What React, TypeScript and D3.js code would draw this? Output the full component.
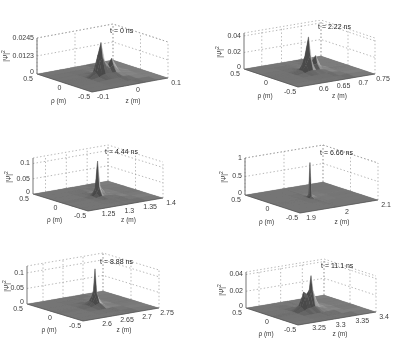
import * as d3 from "d3";

const width = 406;
const height = 346;

// same rho samples in every panel, the field is symmetric about rho = 0
const rhoSamples = [0, 0.03, 0.08, 0.2, 0.35, 0.5];
const rhoTicks = [-0.5, 0, 0.5];

const timeLabels = ["t = 0 ns", "t = 2.22 ns", "t = 4.44 ns", "t = 6.66 ns", "t = 8.88 ns", "t = 11.1 ns"];

const zDomains = [[-0.1, 0.1], [0.555, 0.75], [1.22, 1.4], [1.9, 2.1], [2.56, 2.75], [3.22, 3.4]];
const zTicks = [
  ["-0.1", "0", "0.1"],
  ["0.6", "0.65", "0.7", "0.75"],
  ["1.25", "1.3", "1.35", "1.4"],
  ["1.9", "2", "2.1"],
  ["2.6", "2.65", "2.7", "2.75"],
  ["3.25", "3.3", "3.35", "3.4"],
];
const heightMax = [0.0245, 0.0435, 0.118, 1, 0.122, 0.043];
const heightTicks = [
  ["0", "0.0123", "0.0245"],
  ["0", "0.02", "0.04"],
  ["0", "0.05", "0.1"],
  ["0", "0.5", "1"],
  ["0", "0.05", "0.1"],
  ["0", "0.02", "0.04"],
];

// z sample positions per panel, dense around the pulse
const zSamples = [
  [-0.1, -0.04, -0.02, -0.012, -0.004, 0.006, 0.015, 0.024, 0.04, 0.07, 0.1],
  [0.555, 0.61, 0.63, 0.64, 0.65, 0.658, 0.668, 0.68, 0.7, 0.75],
  [1.22, 1.28, 1.295, 1.303, 1.309, 1.315, 1.325, 1.34, 1.36, 1.4],
  [1.9, 1.97, 1.99, 1.994, 1.996, 1.998, 2.01, 2.04, 2.1],
  [2.56, 2.62, 2.64, 2.65, 2.657, 2.66, 2.664, 2.675, 2.7, 2.75],
  [3.22, 3.27, 3.285, 3.293, 3.3, 3.306, 3.31, 3.315, 3.325, 3.34, 3.36, 3.4],
];

// |psi|^2, one row per rho sample
const psi0 = [
  [0, 0.0002, 0.004, 0.015, 0.023, 0.009, 0.007, 0.011, 0.003, 0.0005, 0],
  [0, 0.0002, 0.003, 0.01, 0.013, 0.007, 0.005, 0.007, 0.002, 0.0004, 0],
  [0, 0.0002, 0.001, 0.002, 0.0025, 0.0025, 0.0025, 0.0025, 0.0015, 0.0003, 0],
  [0, 0.0001, 0.0003, 0.0004, 0.0005, 0.0006, 0.0007, 0.0012, 0.0009, 0.0003, 0],
  [0, 0.0001, 0.0002, 0.0002, 0.0002, 0.0002, 0.0002, 0.0002, 0.0007, 0.0004, 0],
  [0, 0, 0, 0, 0, 0, 0, 0, 0.0001, 0.0002, 0],
];
const psi1 = [
  [0, 0.0003, 0.003, 0.018, 0.042, 0.012, 0.018, 0.005, 0.001, 0],
  [0, 0.0003, 0.003, 0.01, 0.02, 0.008, 0.009, 0.003, 0.0007, 0],
  [0, 0.0003, 0.0015, 0.003, 0.0035, 0.003, 0.003, 0.002, 0.0006, 0],
  [0, 0.0002, 0.0005, 0.0007, 0.0008, 0.0009, 0.001, 0.0016, 0.0006, 0],
  [0, 0.0001, 0.0002, 0.0002, 0.0003, 0.0003, 0.0003, 0.0004, 0.0012, 0],
  [0, 0, 0, 0, 0, 0, 0, 0, 0.0002, 0],
];
const psi2 = [
  [0, 0.0005, 0.004, 0.025, 0.115, 0.03, 0.01, 0.003, 0.0005, 0],
  [0, 0.0004, 0.003, 0.012, 0.03, 0.012, 0.005, 0.002, 0.0004, 0],
  [0, 0.0002, 0.001, 0.003, 0.005, 0.004, 0.003, 0.0015, 0.0003, 0],
  [0, 0.0001, 0.0004, 0.0006, 0.0008, 0.001, 0.001, 0.0025, 0.0006, 0],
  [0, 0.0001, 0.0002, 0.0002, 0.0002, 0.0003, 0.0003, 0.0004, 0.0018, 0],
  [0, 0, 0, 0, 0, 0, 0, 0, 0.0002, 0],
];
const psi3 = [
  [0, 0.002, 0.01, 0.1, 0.95, 0.1, 0.01, 0.002, 0],
  [0, 0.002, 0.008, 0.03, 0.05, 0.03, 0.01, 0.002, 0],
  [0, 0.001, 0.004, 0.006, 0.008, 0.008, 0.005, 0.001, 0],
  [0, 0.0005, 0.001, 0.001, 0.002, 0.002, 0.002, 0.001, 0],
  [0, 0.0002, 0.0003, 0.0003, 0.0004, 0.0004, 0.0004, 0.0004, 0],
  [0, 0, 0, 0, 0, 0, 0, 0, 0],
];
const psi4 = [
  [0, 0.0005, 0.005, 0.015, 0.045, 0.118, 0.035, 0.006, 0.0008, 0],
  [0, 0.0004, 0.005, 0.014, 0.03, 0.045, 0.024, 0.005, 0.0006, 0],
  [0, 0.0003, 0.003, 0.008, 0.012, 0.014, 0.01, 0.003, 0.0005, 0],
  [0, 0.0001, 0.0004, 0.0008, 0.001, 0.0012, 0.0012, 0.0022, 0.0006, 0],
  [0, 0.0001, 0.0002, 0.0002, 0.0002, 0.0002, 0.0003, 0.0003, 0.0018, 0],
  [0, 0, 0, 0, 0, 0, 0, 0, 0.0002, 0],
];
const psi5 = [
  [0, 0.001, 0.007, 0.023, 0.02, 0.024, 0.041, 0.022, 0.006, 0.002, 0.0005, 0],
  [0, 0.0008, 0.006, 0.016, 0.016, 0.018, 0.024, 0.015, 0.005, 0.0015, 0.0004, 0],
  [0, 0.0004, 0.003, 0.005, 0.005, 0.006, 0.006, 0.005, 0.003, 0.001, 0.0003, 0],
  [0, 0.0002, 0.0005, 0.0007, 0.0008, 0.0008, 0.001, 0.001, 0.0012, 0.0014, 0.0002, 0],
  [0, 0.0001, 0.0002, 0.0002, 0.0002, 0.0002, 0.0002, 0.0003, 0.0003, 0.0004, 0.0009, 0],
  [0, 0, 0, 0, 0, 0, 0, 0, 0, 0, 0.0001, 0],
];
const psiRows = [psi0, psi1, psi2, psi3, psi4, psi5];

// where each box sits on the page: floor corners and box height in px
const frames = [
  { left: [37, 74], front: [92, 92], right: [168, 78], h: 36, yLabel: [6, 56] },
  { left: [244, 69], front: [298, 87], right: [375, 74], h: 36, yLabel: [220, 52] },
  { left: [33, 194], front: [88, 211], right: [163, 198], h: 36, yLabel: [9, 177] },
  { left: [245, 195], front: [300, 213], right: [378, 200], h: 37, yLabel: [224, 177] },
  { left: [27, 304], front: [83, 321], right: [159, 308], h: 38, yLabel: [7, 286] },
  { left: [246, 308], front: [298, 325], right: [376, 312], h: 36, yLabel: [222, 290] },
];

const slopeGray = d3.scalePow<string>()
  .exponent(0.6)
  .domain([-1.4, 0, 1.4])
  .range(["#c4c4c4", "#757575", "#484848"])
  .clamp(true);

function Panel({ i }: { i: number }) {
  const f = frames[i];
  const zScale = d3.scaleLinear().domain(zDomains[i]).range([0, 1]);
  const rhoScale = d3.scaleLinear().domain([-0.5, 0.5]).range([0, 1]);
  const hScale = d3.scaleLinear().domain([0, heightMax[i]]).range([0, f.h]);

  const project = (z: number, rho: number, v: number): [number, number] => {
    const a = zScale(z);
    const b = rhoScale(rho);
    return [
      f.front[0] + a * (f.right[0] - f.front[0]) + b * (f.left[0] - f.front[0]),
      f.front[1] + a * (f.right[1] - f.front[1]) + b * (f.left[1] - f.front[1]) - hScale(v),
    ];
  };

  const [z0, z1] = zDomains[i];
  const line = d3.line();
  const back = project(z1, 0.5, 0);
  const midRho = project(z0, 0, 0);
  const midZ = project((z0 + z1) / 2, -0.5, 0);
  const top = heightMax[i];

  // mirror the half field to get the whole rho range
  const rows = psiRows[i];
  const rhoRev = rhoSamples.slice(1).reverse();
  const rhos = [...rhoRev.map((r) => -r), ...rhoSamples];
  const rowIdx = [...rhoRev.map((_, k) => rhoRev.length - k), ...rhoSamples.map((_, k) => k)];
  const zs = zSamples[i];

  // painter's order, far corner (z max, rho max) first
  const cells: { d: string; fill: string }[] = [];
  for (let r = rhos.length - 2; r >= 0; r--) {
    for (let c = zs.length - 2; c >= 0; c--) {
      const a = rows[rowIdx[r]];
      const b = rows[rowIdx[r + 1]];
      const p = [
        project(zs[c], rhos[r], a[c]),
        project(zs[c + 1], rhos[r], a[c + 1]),
        project(zs[c + 1], rhos[r + 1], b[c + 1]),
        project(zs[c], rhos[r + 1], b[c]),
      ];
      const zPx = Math.max(0.5, zScale(zs[c + 1]) * 78 - zScale(zs[c]) * 78);
      const rPx = Math.max(0.5, rhoScale(rhos[r + 1]) * 55 - rhoScale(rhos[r]) * 55);
      const dz = (hScale(a[c + 1]) + hScale(b[c + 1]) - hScale(a[c]) - hScale(b[c])) / 2 / zPx;
      const dr = (hScale(b[c]) + hScale(b[c + 1]) - hScale(a[c]) - hScale(a[c + 1])) / 2 / rPx;
      cells.push({ d: line(p) + "Z", fill: slopeGray(dz + 0.35 * dr) });
    }
  }

  const dotted = { fill: "none", stroke: "#999", strokeWidth: 0.7, strokeDasharray: "1.4 2.2" };
  const txt = { fontSize: 7, fill: "#3a3a3a" };
  const rhoDx = [-8, -5, -9];

  return (
    <g>
      {/* wall grid */}
      {zTicks[i].map((t) => (
        <path key={t} d={line([project(+t, 0.5, 0), project(+t, 0.5, top)]) ?? ""} {...dotted} />
      ))}
      {rhoTicks.map((t) => (
        <path key={t} d={line([project(z1, t, 0), project(z1, t, top)]) ?? ""} {...dotted} />
      ))}
      {[...heightTicks[i].slice(1).map(Number), top].map((t, k) => (
        <path key={k} d={line([project(z0, 0.5, t), project(z1, 0.5, t), project(z1, -0.5, t)]) ?? ""} {...dotted} />
      ))}

      <path d={line([project(z0, -0.5, 0), project(z1, -0.5, 0), project(z1, 0.5, 0), project(z0, 0.5, 0)]) + "Z"} fill="#757575" />
      {cells.map((c, k) => (
        <path key={k} d={c.d} fill={c.fill} stroke={c.fill} strokeWidth={0.25} />
      ))}
      <path d={line([f.left as [number, number], f.front as [number, number], f.right as [number, number]]) ?? ""} fill="none" stroke="#555" strokeWidth={0.7} />
      <path d={line([project(z0, 0.5, 0), project(z0, 0.5, top)]) ?? ""} stroke="#666" strokeWidth={0.9} fill="none" />

      {/* ticks */}
      {heightTicks[i].map((t) => {
        const [x, y] = project(z0, 0.5, +t);
        return (
          <text key={t} x={x - 3} y={+t === 0 ? y - 1.5 : y} textAnchor="end" dominantBaseline="middle" {...txt}>{t}</text>
        );
      })}
      {rhoTicks.map((t, k) => {
        const [x, y] = project(z0, t, 0);
        return (
          <text key={t} x={x + rhoDx[k]} y={y + 5.5} textAnchor="middle" dominantBaseline="middle" {...txt}>{t}</text>
        );
      })}
      {zTicks[i].map((t) => {
        const [x, y] = project(+t, -0.5, 0);
        return (
          <text key={t} x={x + (+t === z0 ? 11 : 8)} y={y + 5.5} textAnchor="middle" dominantBaseline="middle" {...txt}>{t}</text>
        );
      })}

      <text x={midRho[0] - 6} y={midRho[1] + 18} textAnchor="middle" dominantBaseline="middle" {...txt} fontSize={6.5}>ρ (m)</text>
      <text x={midZ[0] + 3} y={midZ[1] + 16} textAnchor="middle" dominantBaseline="middle" {...txt} fontSize={6.5}>z (m)</text>
      <text transform={`translate(${f.yLabel[0]},${f.yLabel[1]}) rotate(-90)`} textAnchor="middle" dominantBaseline="middle" {...txt} fontSize={6.5}>
        |Ψ|<tspan dy={-2} fontSize={5}>2</tspan>
      </text>
      <text x={back[0] - 3} y={back[1] - 29} dominantBaseline="middle" {...txt} fill="#222">{timeLabels[i]}</text>
    </g>
  );
}

export default function App() {
  return (
    <svg
      width={width}
      height={height}
      viewBox={`0 0 ${width} ${height}`}
      style={{ position: "fixed", left: 0, top: 0, background: "#fff", fontFamily: "'Liberation Sans', Arial, sans-serif" }}
    >
      <defs>
        <filter id="soft" x="0" y="0" width="100%" height="100%">
          <feGaussianBlur stdDeviation="0.4" />
        </filter>
      </defs>
      <g filter="url(#soft)">
        {frames.map((_, i) => (
          <Panel key={i} i={i} />
        ))}
      </g>
    </svg>
  );
}
